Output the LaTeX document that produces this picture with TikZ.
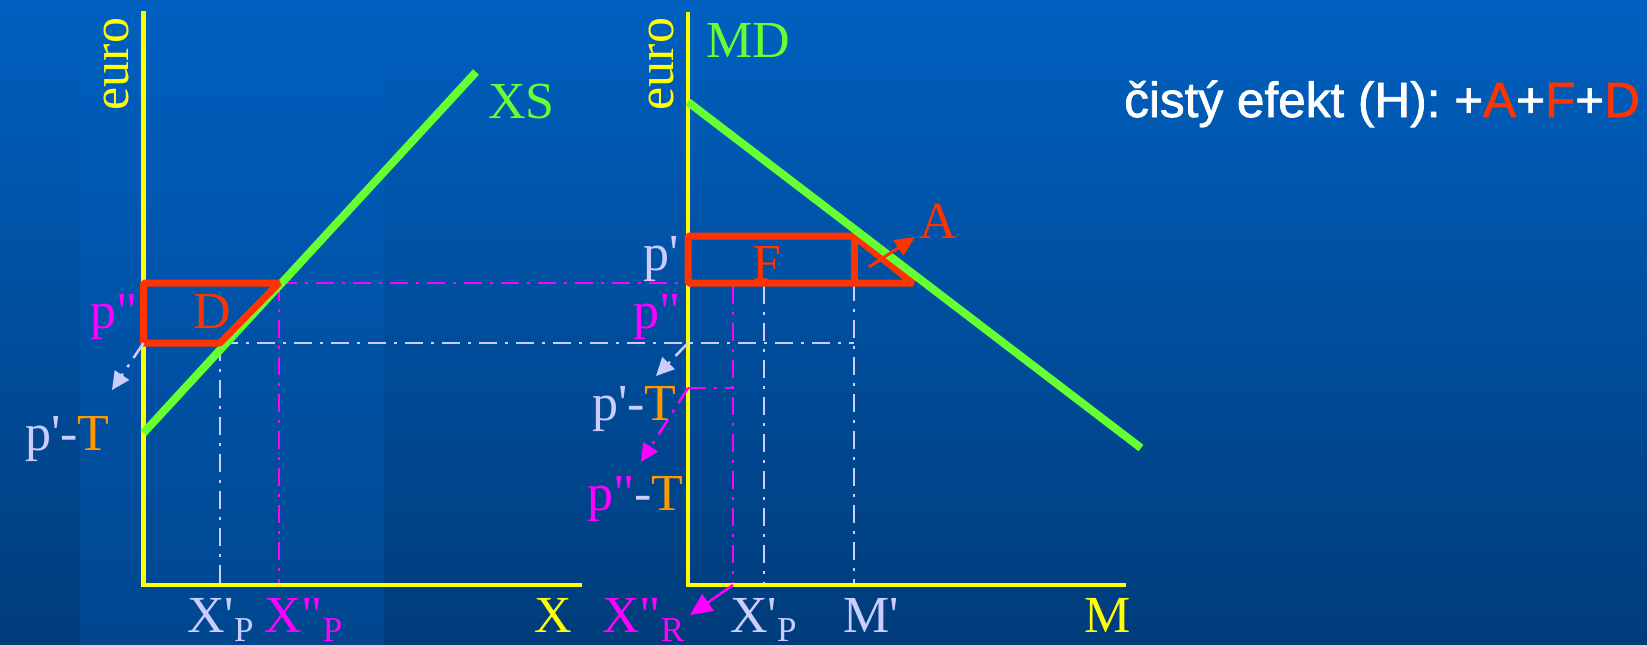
\documentclass[tikz,border=0pt]{standalone}
\usepackage{fontspec}
\usetikzlibrary{arrows.meta}
\newfontfamily\tnr{Liberation Serif}
\newfontfamily\arl{Liberation Sans}[FakeBold=1.5]
\definecolor{bgtop}{RGB}{0,96,192}
\definecolor{bgbot}{RGB}{0,60,122}
\definecolor{yel}{RGB}{255,255,0}
\definecolor{grn}{RGB}{102,255,51}
\definecolor{rd}{RGB}{255,51,0}
\definecolor{mag}{RGB}{255,0,255}
\definecolor{lav}{RGB}{204,204,255}
\definecolor{org}{RGB}{255,153,0}
\newcommand\subsc[1]{\raisebox{-9pt}{\fontsize{35}{40}\selectfont #1}}
\begin{document}
\begin{tikzpicture}[x=1pt,y=-1pt,
  lbl/.style={inner sep=0pt, anchor=base west, font=\tnr\fontsize{52}{60}\selectfont},
  axis/.style={draw=yel, line width=4.5pt},
  curve/.style={draw=grn, line width=8pt},
  area/.style={draw=rd, line width=7pt, line join=bevel},
  dd/.style={line width=2.5pt, dash pattern=on 18pt off 8pt on 3pt off 8pt},
  tipa/.style={-{Triangle[length=18pt,width=17pt]}}]
\useasboundingbox (0,0) rectangle (1647,645);
% background
\shade[top color=bgtop, bottom color=bgbot] (0,0) rectangle (1647,645);
\fill[bgtop, opacity=0.3] (80,0) rectangle (384,645);
% coordinates, left panel
\coordinate (LO) at (143.5,585);
\coordinate (LYt) at (143.5,11);
\coordinate (LXe) at (582,585);
\coordinate (XS0) at (143.5,433);
\coordinate (XS1) at (476,72);
\coordinate (D1) at (143.5,283);
\coordinate (D2) at (279,283);
\coordinate (D3) at (220,343);
\coordinate (D4) at (143.5,343);
\coordinate (LmagB) at (279,583);
\coordinate (LlavB) at (220,583);
\coordinate (LarT) at (112,390);
% right panel
\coordinate (RO) at (688,585);
\coordinate (RYt) at (688,12);
\coordinate (RXe) at (1126,585);
\coordinate (MD0) at (688,102);
\coordinate (MD1) at (1141,448);
\coordinate (F1) at (688,236);
\coordinate (F2) at (854,236);
\coordinate (F3) at (913,283);
\coordinate (F4) at (688,283);
\coordinate (F5) at (854,283);
\coordinate (RmagT) at (733,286);
\coordinate (RmagB) at (733,583);
\coordinate (RlavT) at (764,286);
\coordinate (RlavB) at (764,583);
\coordinate (MpB) at (854,583);
\coordinate (RH) at (854,343);
\coordinate (Rp2) at (688,343);
\coordinate (RarT) at (656,376);
\coordinate (RpT) at (688,388);
\coordinate (RpTe) at (733,388);
\coordinate (RmarT) at (641,462);
\coordinate (XRs) at (733,585);
\coordinate (XRt) at (690,615);
\coordinate (Aa) at (869,267);
\coordinate (Ab) at (915,237);
% axes
\draw[axis] (LYt) -- (LO) -- (LXe);
\draw[axis] (RYt) -- (RO) -- (RXe);
% guide lines
\draw[dd, mag] (D2) -- (F4);
\draw[dd, mag] (D2) -- (LmagB);
\draw[dd, lav] (D3) -- (RH);
\draw[dd, lav] (D3) -- (LlavB);
\draw[dd, mag] (RmagT) -- (RmagB);
\draw[dd, lav] (RlavT) -- (RlavB);
\draw[dd, lav] (F5) -- (MpB);
\draw[dd, mag] (RpT) -- (RpTe);
% curves and areas
\draw[curve] (XS0) -- (XS1);
\draw[area] (D1) -- (D2) -- (D3) -- (D4) -- cycle;
\draw[area] (F1) -- (F2) -- (F3) -- (F4) -- cycle;
\draw[area] (F2) -- (F5);
\draw[curve] (MD0) -- (MD1);
% arrows
\draw[rd, line width=3pt, -{Triangle[length=20pt,width=18pt]}] (Aa) -- (Ab);
\draw[dd, lav, tipa] (D4) -- (LarT);
\draw[dd, lav, tipa] (Rp2) -- (RarT);
\draw[dd, mag, tipa] (RpT) -- (RmarT);
\draw[mag, line width=2.5pt, -{Triangle[length=22pt,width=20pt]}] (XRs) -- (XRt);
% labels left
\node[lbl, anchor=center, rotate=90, text=yel] (euroL) at (116.5,64) {euro};
\node[lbl, text=grn] (XS) at (488,118) {XS};
\node[lbl, text=mag] (ppL) at (90,328) {p"};
\node[lbl, text=rd] (D) at (193,328) {D};
\node[lbl, text=lav] (ptL) at (25,450) {p'-\textcolor{org}{T}};
\node[lbl, text=lav] (XpL) at (187,632) {X'\subsc{P}};
\node[lbl, text=mag] (XppL) at (264,632) {X"\subsc{P}};
\node[lbl, text=yel] (X) at (534,632) {X};
% labels right
\node[lbl, anchor=center, rotate=90, text=yel] (euroR) at (661.5,64) {euro};
\node[lbl, text=grn] (MD) at (706,57) {MD};
\node[lbl, text=lav] (pR) at (643,270) {p'};
\node[lbl, text=mag] (ppR) at (633,328) {p"};
\node[lbl, text=rd] (F) at (752,280) {F};
\node[lbl, text=rd] (A) at (919,238) {A};
\node[lbl, text=lav] (ptR) at (592,420) {p'-\textcolor{org}{T}};
\node[lbl, text=mag] (pptR) at (587,510) {p"\textcolor{lav}{-}\textcolor{org}{T}};
\node[lbl, text=mag] (XppR) at (602,632) {X"\subsc{R}};
\node[lbl, text=lav] (XpR) at (730,632) {X'\subsc{P}};
\node[lbl, text=lav] (Mp) at (843,632) {M'};
\node[lbl, text=yel] (M) at (1084,632) {M};
% title
\node[anchor=base west, inner sep=0pt, font=\arl\fontsize{49.5}{58}\selectfont, text=white] (title) at (1124,117) {čistý efekt (H): +\textcolor{rd}{A}+\textcolor{rd}{F}+\textcolor{rd}{D}};
\end{tikzpicture}
\end{document}
